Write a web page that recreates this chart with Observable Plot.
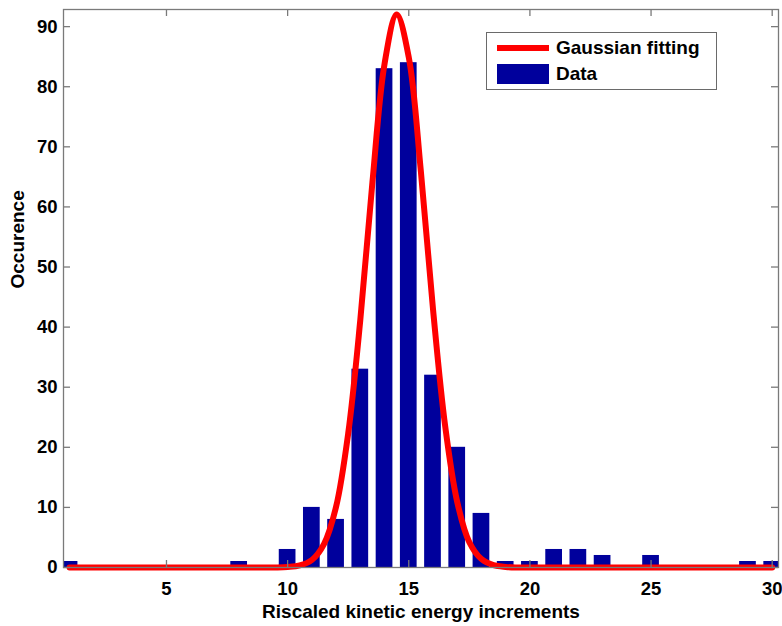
<!DOCTYPE html>
<html><head><meta charset="utf-8">
<script src="https://cdn.jsdelivr.net/npm/d3@7"></script>
<script src="https://cdn.jsdelivr.net/npm/@observablehq/plot@0.6"></script>
<style>
body{margin:0;background:#fff;}
#wrap{position:relative;width:782px;height:626px;font-family:"Liberation Sans",Arial,sans-serif;}
#legend{position:absolute;left:486px;top:32px;width:231px;height:58px;border:1px solid #6a6a6a;background:#fff;box-sizing:border-box;}
#legend .row{position:absolute;left:0;display:flex;align-items:center;font-weight:bold;font-size:19px;color:#000;}
</style>
</head><body><div id="wrap"></div>
<script>
// Histogram bins and counts
const bins = [1,2,3,4,5,6,7,8,9,10,11,12,13,14,15,16,17,18,19,20,21,22,23,24,25,26,27,28,29,30];
const counts = [1,0,0,0,0,0,0,1,0,3,10,8,33,83,84,32,20,9,1,1,3,3,2,0,2,0,0,0,1,1];
// Gaussian fitting curve
const fitX = [1,5,9,9.5,10,10.5,11,11.5,12,12.5,13,13.5,14,14.5,15,15.5,16,16.5,17,17.5,18,18.5,19,19.5,20,25,30];
const fitY = [0,0,0,0.01,0.08,0.34,1.25,3.9,10.1,22.3,41.2,64.1,83.8,92,84.9,65.9,43,23.6,10.9,4.2,1.4,0.38,0.09,0.01,0,0,0];
const xTicks = [5,10,15,20,25,30];
const yTicks = [0,10,20,30,40,50,60,70,80,90];
const xLabel = "Riscaled kinetic energy increments";
const yLabel = "Occurence";
const legendLabels = ["Gaussian fitting","Data"];

const barData = bins.map((b,i)=>({bin:b,count:counts[i]})).filter(d=>d.count>0);
const fit = fitX.map((x,i)=>({x, y: fitY[i]}));
const halfW = 0.345;

const W=782,H=626,mL=63,mR=4,mT=9,mB=59;
const innerW=W-mL-mR, innerH=H-mT-mB, tk=7;

const chart = Plot.plot({
  width: W, height: H,
  marginLeft: mL, marginRight: mR, marginTop: mT, marginBottom: mB,
  x: {domain: [0.75, 30.26]},
  y: {domain: [0, 92.85]},
  style: {fontFamily: '"Liberation Sans", Arial, sans-serif', fontSize: "18px", fontWeight: "bold", color: "#000", background: "#fff"},
  marks: [
    Plot.rect(barData, {x1: d=>d.bin-halfW, x2: d=>d.bin+halfW, y1: 0, y2: "count", fill: "#00009c", clip: true}),
    Plot.line(fit, {x: "x", y: "y", stroke: "#ff0000", strokeWidth: 6, curve: "catmull-rom"}),
    Plot.frame({stroke: "#7a7a7a", strokeWidth: 1.3}),
    Plot.ruleX(xTicks, {x: d=>d, insetTop: innerH-tk, stroke: "#7a7a7a", strokeWidth: 1.3}),
    Plot.ruleX(xTicks, {x: d=>d, insetBottom: innerH-tk, stroke: "#7a7a7a", strokeWidth: 1.3}),
    Plot.ruleY(yTicks, {y: d=>d, insetRight: innerW-tk, stroke: "#7a7a7a", strokeWidth: 1.3}),
    Plot.ruleY(yTicks, {y: d=>d, insetLeft: innerW-tk, stroke: "#7a7a7a", strokeWidth: 1.3}),
    Plot.axisX(xTicks, {tickSize: 0, tickPadding: 14, label: null, fontSize: 18.5, fontWeight: "bold"}),
    Plot.axisY(yTicks, {tickSize: 0, tickPadding: 6, label: null, fontSize: 18.5, fontWeight: "bold"}),
    Plot.text([xLabel], {frameAnchor: "bottom", dy: 50, text: d=>d, fontSize: 19, fontWeight: "bold", fill: "#000"}),
    Plot.text([yLabel], {frameAnchor: "left", dx: -46, rotate: -90, text: d=>d, fontSize: 19, fontWeight: "bold", fill: "#000"})
  ]
});
const wrap = document.getElementById("wrap");
wrap.appendChild(chart);

const lg = document.createElement("div");
lg.id = "legend";
lg.innerHTML = `
 <div class="row" style="top:3px;height:24px;left:10px;"><svg width="52" height="24"><line x1="0" x2="52" y1="12" y2="12" stroke="#ff0000" stroke-width="6"/></svg><span style="margin-left:7px">${legendLabels[0]}</span></div>
 <div class="row" style="top:31px;height:20px;left:10px;"><svg width="52" height="20"><rect x="0" y="0" width="52" height="20" fill="#00009c"/></svg><span style="margin-left:7px">${legendLabels[1]}</span></div>`;
wrap.appendChild(lg);
</script>
</body></html>
